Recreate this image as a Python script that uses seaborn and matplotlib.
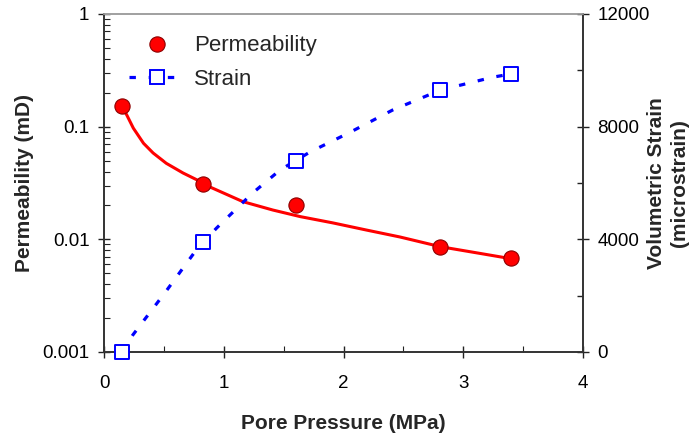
import numpy as np
import pandas as pd
import matplotlib
matplotlib.use("Agg")
import matplotlib.pyplot as plt
from matplotlib.lines import Line2D
from matplotlib.ticker import FuncFormatter, MultipleLocator, LogLocator, NullFormatter
import seaborn as sns

# measured points
perm_p = [0.15, 0.83, 1.60, 2.81, 3.40]
perm_k = [0.152, 0.031, 0.020, 0.0086, 0.0068]
strain_p = [0.15, 0.83, 1.60, 2.81, 3.40]
strain_v = [0, 3900, 6780, 9300, 9870]

# trend curves
fit_p = [0.15, 0.19, 0.245, 0.33, 0.41, 0.52, 0.66, 0.83, 0.88, 1.16, 1.41, 1.64,
         1.91, 2.19, 2.47, 2.81, 3.14, 3.41]
fit_k = [0.15, 0.127, 0.097, 0.0712, 0.0584, 0.0473, 0.0388, 0.0316, 0.0293, 0.0216,
         0.0182, 0.0159, 0.014, 0.0121, 0.0105, 0.0086, 0.0075, 0.0067]
curve_p = [0.15, 0.24, 0.51, 0.77, 0.94, 1.24, 1.47, 1.72, 2.05, 2.41, 2.81, 3.25, 3.40]
curve_v = [0, 600, 2110, 3620, 4400, 5640, 6460, 7100, 7790, 8590, 9300, 9760, 9870]

RED = "#ff0000"
DARK_RED = "#8b0000"
BLUE = "#0000ff"
DASH = (0, (2.0, 4.0))

sns.set_theme(style="ticks")
plt.rcParams["font.family"] = ["Liberation Sans", "DejaVu Sans"]

fig = plt.figure(figsize=(6.97, 4.38), dpi=100)
ax = fig.add_axes([104 / 697, 1 - 352 / 438, 479 / 697, 338 / 438])
ax2 = ax.twinx()

# permeability on log axis
sns.lineplot(x=fit_p, y=fit_k, ax=ax, color=RED, lw=2.2, estimator=None, sort=False, zorder=2)
sns.scatterplot(x=perm_p, y=perm_k, ax=ax, color=RED, edgecolor=DARK_RED, linewidth=0.8,
                s=120, zorder=3)

# strain on right axis
sns.lineplot(x=curve_p, y=curve_v, ax=ax2, color=BLUE, lw=2.3, estimator=None, sort=False,
             linestyle=DASH, zorder=2)
sns.scatterplot(x=strain_p, y=strain_v, ax=ax2, marker="s", facecolor="white",
                edgecolor=BLUE, linewidth=1.4, s=110, zorder=3)
for c in ax2.collections:
    c.set_clip_on(False)

ax.set_xlim(0, 4)
ax.set_yscale("log")
ax.set_ylim(0.001, 1)
ax2.set_ylim(0, 12000)

ax.yaxis.set_major_locator(LogLocator(base=10, numticks=10))
ax.yaxis.set_minor_locator(LogLocator(base=10, subs=np.arange(2, 10), numticks=20))
ax.yaxis.set_major_formatter(FuncFormatter(lambda v, _: f"{v:g}"))
ax.yaxis.set_minor_formatter(NullFormatter())
ax.xaxis.set_major_locator(MultipleLocator(1))
ax.xaxis.set_minor_locator(MultipleLocator(0.5))
ax2.yaxis.set_major_locator(MultipleLocator(4000))
ax2.yaxis.set_minor_locator(MultipleLocator(2000))

ax.tick_params(axis="both", which="major", direction="inout", length=9, width=1,
               labelsize=13.5, colors="#222222", labelcolor="black")
ax.tick_params(axis="x", which="major", pad=12)
ax.tick_params(axis="y", which="major", pad=6)
ax.tick_params(axis="both", which="minor", direction="in", length=4.5, width=0.8, colors="#222222")
ax2.tick_params(axis="y", which="major", direction="inout", length=9, width=1,
                labelsize=13.5, colors="#222222", labelcolor="black", pad=6)
ax2.tick_params(axis="y", which="minor", direction="in", length=4.5, width=1, colors="#222222")

for a in (ax, ax2):
    for s in ("left", "bottom", "right"):
        a.spines[s].set_color("#333333")
        a.spines[s].set_linewidth(1.2)
    a.spines["top"].set_visible(True)
    a.spines["top"].set_color("#a0a0a0")
    a.spines["top"].set_linewidth(1.2)

ax.set_xlabel("Pore Pressure (MPa)", fontsize=15, fontweight="bold", labelpad=16)
ax.set_ylabel("Permeability (mD)", fontsize=15, fontweight="bold", labelpad=6)
ax2.set_ylabel("Volumetric Strain\n(microstrain)", fontsize=15, fontweight="bold",
               linespacing=1.25)
ax2.yaxis.set_label_coords(1.134, 0.5)

handles = [
    Line2D([], [], ls="none", marker="o", markersize=11, markerfacecolor=RED,
           markeredgecolor=DARK_RED, markeredgewidth=0.8),
    Line2D([], [], color=BLUE, lw=2.3, ls=DASH, marker="s", markersize=10.5,
           markerfacecolor="white", markeredgecolor=BLUE, markeredgewidth=1.4),
]
ax2.legend(handles, ["Permeability", "Strain"], loc="upper left",
           bbox_to_anchor=(0.052, 0.937), frameon=False, fontsize=16,
           handlelength=2.5, handletextpad=0.45, labelspacing=0.58, borderpad=0,
           borderaxespad=0)

fig.savefig("out.png", dpi=100)
